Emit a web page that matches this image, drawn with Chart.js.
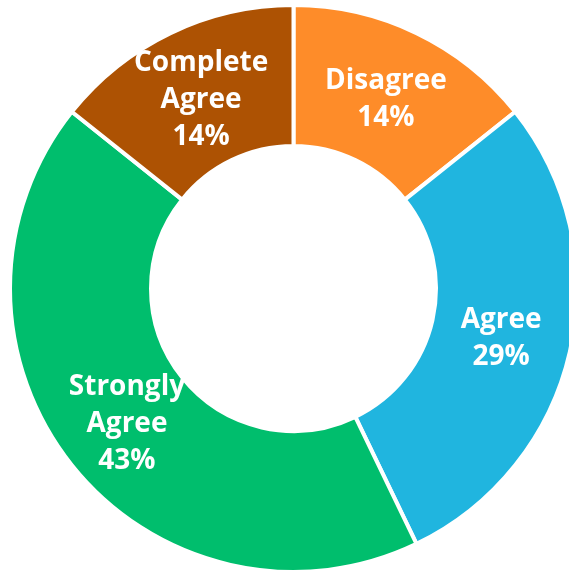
<!DOCTYPE html>
<html>
<head>
<meta charset="utf-8">
<script src="https://cdn.jsdelivr.net/npm/chart.js@4/dist/chart.umd.min.js"></script>
<style>
  html, body { margin: 0; padding: 0; background: #ffffff; overflow: hidden; width: 569px; height: 570px; }
  #wrap { position: absolute; left: 0; top: 0; }
</style>
</head>
<body>
<div id="wrap"><canvas id="chart" width="620" height="620"></canvas></div>
<script>
// Survey responses, clockwise from the top
const categories = ['Disagree', 'Agree', 'Strongly Agree', 'Complete Agree'];
const responses = [1, 2, 3, 1];
const sliceColors = ['#FE8C29', '#20B5DF', '#00BE6D', '#AD5203'];

const total = responses.reduce((a, b) => a + b, 0);

// Writes each slice's name and share in the middle of its ring segment
const sliceLabels = {
  id: 'sliceLabels',
  afterDatasetsDraw(chart) {
    const ctx = chart.ctx;
    const meta = chart.getDatasetMeta(0);
    const lineHeight = 37;
    ctx.save();
    ctx.fillStyle = '#ffffff';
    ctx.font = 'bold 28px "Open Sans"';
    ctx.textAlign = 'center';
    ctx.textBaseline = 'middle';
    meta.data.forEach((arc, i) => {
      const p = arc.getCenterPoint();
      const pct = Math.round(responses[i] / total * 100) + '%';
      const lines = categories[i].split(' ').concat([pct]);
      const top = p.y - (lines.length - 1) * lineHeight / 2 + 3;
      lines.forEach((t, k) => ctx.fillText(t, p.x, top + k * lineHeight));
    });
    ctx.restore();
  }
};

new Chart(document.getElementById('chart'), {
  type: 'doughnut',
  data: {
    labels: categories,
    datasets: [{
      data: responses,
      backgroundColor: sliceColors,
      hoverBackgroundColor: sliceColors,
      borderColor: '#ffffff',
      hoverBorderColor: '#ffffff',
      borderWidth: 4,
      hoverBorderWidth: 4,
      hoverOffset: 0,
      offset: 0
    }]
  },
  options: {
    responsive: false,
    animation: false,
    cutout: 142.5,
    layout: { padding: { left: 8, top: 3, right: 41, bottom: 46 } },
    plugins: {
      legend: { display: false },
      tooltip: { enabled: false }
    },
    events: []
  },
  plugins: [sliceLabels]
});
</script>
</body>
</html>
